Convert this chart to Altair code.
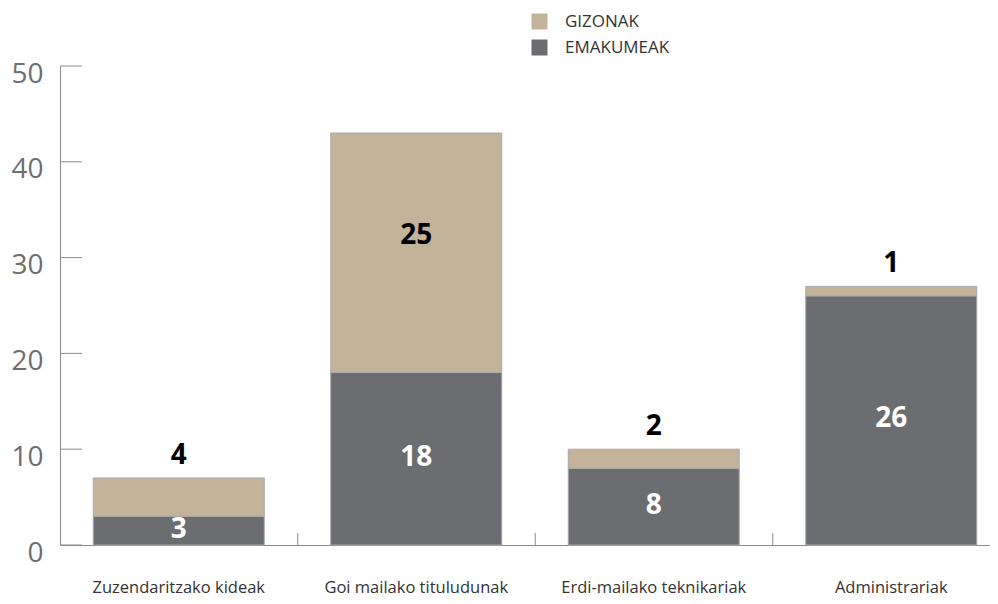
import altair as alt
import pandas as pd

categories = ["Zuzendaritzako kideak", "Goi mailako tituludunak",
              "Erdi-mailako teknikariak", "Administrariak"]
emakumeak = [3, 18, 8, 26]
gizonak = [4, 25, 2, 1]
series = ["GIZONAK", "EMAKUMEAK"]
colors = ["#c4b39b", "#6c6d70"]
y_ticks = [0, 10, 20, 30, 40, 50]

rows = []
for c, e, g in zip(categories, emakumeak, gizonak):
    rows.append({"cat": c, "sex": "EMAKUMEAK", "value": e})
    rows.append({"cat": c, "sex": "GIZONAK", "value": g})
df = pd.DataFrame(rows)
ytick_df = pd.DataFrame({"t": y_ticks})
xtick_df = pd.DataFrame({"cat": categories[1:]})

FONT = "Open Sans"
AXIS_COLOR = "#8a8a8a"

base = alt.Chart(df).transform_calculate(
    ord="datum.sex == 'EMAKUMEAK' ? 0 : 1"
)

x_scale = alt.Scale(range=[0, 950], paddingInner=0.28, paddingOuter=0.14)
y_scale = alt.Scale(domain=[0, 50], nice=False)

x_enc = alt.X(
    "cat:N", sort=categories, title=None, scale=x_scale,
    axis=alt.Axis(
        labelAngle=0, labelFont=FONT, labelFontSize=16.5, labelColor="#333333",
        labelPadding=47, labelBaseline="alphabetic", labelLimit=400,
        ticks=False, domainColor=AXIS_COLOR, domainWidth=1, grid=False,
    ),
)

bars = base.mark_bar(stroke="#a9a9a9", strokeWidth=1).encode(
    x=x_enc,
    y=alt.Y(
        "value:Q", stack="zero", scale=y_scale, title=None,
        axis=alt.Axis(
            values=y_ticks, labelFont=FONT, labelFontSize=28, labelColor="#6d6e71",
            labelPadding=17, labelBaseline="alphabetic", labelOffset=16,
            ticks=False, domainColor=AXIS_COLOR, domainWidth=1, grid=False,
        ),
    ),
    color=alt.Color(
        "sex:N", scale=alt.Scale(domain=series, range=colors),
        legend=alt.Legend(
            title=None, orient="none", legendX=471, legendY=-53,
            direction="vertical", symbolType="square", symbolSize=256,
            symbolStrokeWidth=0, labelFont=FONT, labelFontSize=17,
            labelColor="#333333", labelOffset=17, rowPadding=8, padding=0,
        ),
    ),
    order=alt.Order("ord:Q", sort="ascending"),
)

# inward axis ticks
ytick_layer = alt.Chart(ytick_df).mark_rule(color=AXIS_COLOR, strokeWidth=1).encode(
    y=alt.Y("t:Q", scale=y_scale),
    x=alt.value(0), x2=alt.value(22),
)
xtick_layer = alt.Chart(xtick_df).mark_rule(
    color=AXIS_COLOR, strokeWidth=1, xOffset=-33
).encode(
    x=alt.X("cat:N", sort=categories, bandPosition=0),
    y=alt.value(467), y2=alt.value(479),
)

stacked = base.transform_stack(
    stack="value", groupby=["cat"], sort=[alt.SortField("ord", order="ascending")],
    as_=["v0", "v1"],
).transform_calculate(mid="(datum.v0 + datum.v1) / 2")

text_props = dict(font=FONT, fontSize=28, fontWeight="bold", baseline="middle")

lab_w = stacked.transform_filter("datum.sex == 'EMAKUMEAK'").mark_text(
    color="white", dy=-1, **text_props
).encode(x=alt.X("cat:N", sort=categories), y=alt.Y("mid:Q", scale=y_scale), text="value:Q")

lab_m_in = stacked.transform_filter(
    "datum.sex == 'GIZONAK' && datum.value >= 5"
).mark_text(color="black", dy=-17, **text_props).encode(
    x=alt.X("cat:N", sort=categories), y=alt.Y("mid:Q", scale=y_scale), text="value:Q"
)

lab_m_out = stacked.transform_filter(
    "datum.sex == 'GIZONAK' && datum.value < 5"
).mark_text(color="black", dy=-22, **text_props).encode(
    x=alt.X("cat:N", sort=categories), y=alt.Y("v1:Q", scale=y_scale), text="value:Q"
)

chart = alt.layer(bars, ytick_layer, xtick_layer, lab_w, lab_m_in, lab_m_out).properties(
    width=930, height=479,
    autosize=alt.AutoSizeParams(type="none"),
    padding={"left": 52, "top": 58, "right": 0, "bottom": 51},
).configure(font=FONT).configure_view(stroke=None)

chart.save("out.html", embed_options={"renderer": "svg", "actions": False})
